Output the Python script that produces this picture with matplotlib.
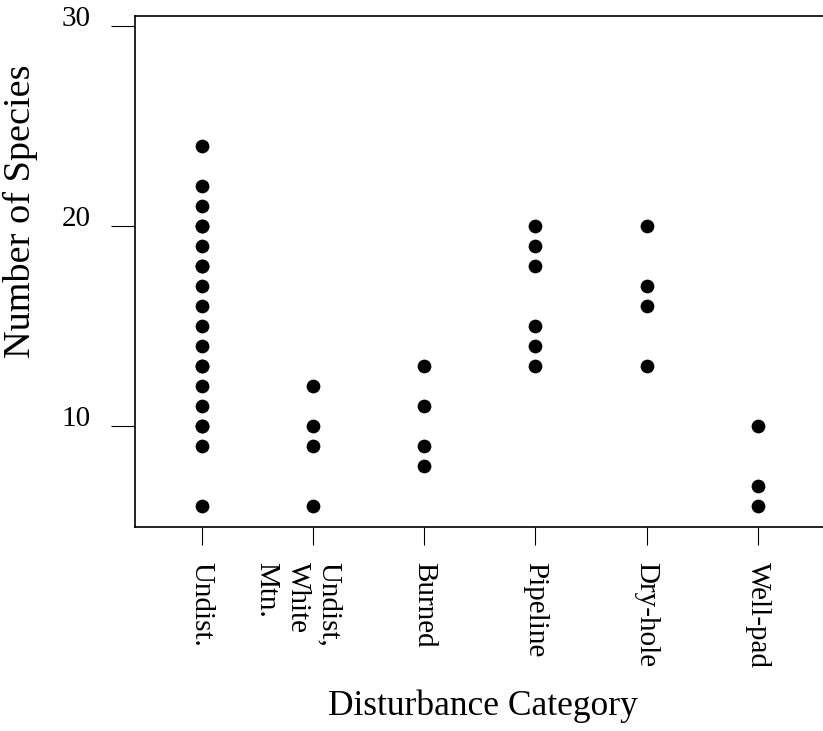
import numpy as np
import matplotlib.pyplot as plt
from matplotlib.transforms import ScaledTranslation

plt.rcParams['font.family'] = ['Liberation Serif', 'DejaVu Serif']

# species counts per plot, grouped by disturbance category
categories = ["Undist.", "Undist,\nWhite\nMtn.", "Burned", "Pipeline", "Dry-hole", "Well-pad"]
undist = [24, 22, 21, 20, 20, 19, 18, 18, 17, 16, 15, 14, 13, 13, 12, 11, 10, 10, 9, 6]
undist_white_mtn = [12, 10, 9, 6]
burned = [13, 11, 9, 8]
pipeline = [20, 19, 18, 15, 14, 13]
dry_hole = [20, 17, 16, 13]
well_pad = [10, 7, 6]
groups = [undist, undist_white_mtn, burned, pipeline, dry_hole, well_pad]
yticks = [10, 20, 30]

W, H = 823, 731
fig = plt.figure(figsize=(W / 100, H / 100), dpi=100)
ax = fig.add_axes([135 / W, 1 - 527 / H, (W - 135) / W, (527 - 16.5) / H])

for i, vals in enumerate(groups, start=1):
    ax.plot(np.full(len(vals), i), vals, 'o', color='black', markersize=9.9,
            markeredgewidth=0, linestyle='none')

ax.set_xlim(0.4, 6.586)
ax.set_ylim(4.95, 30.475)
ax.spines['right'].set_visible(False)
for s in ['left', 'bottom', 'top']:
    ax.spines[s].set_linewidth(1.2)

ax.set_yticks(yticks)
ax.set_yticklabels([str(t) for t in yticks], fontsize=21)
ax.tick_params(axis='y', length=17, width=0.8, pad=15)
# labels sit just above their ticks
for lbl in ax.get_yticklabels():
    lbl.set_transform(lbl.get_transform() + ScaledTranslation(0, 0.10, fig.dpi_scale_trans))

ax.set_xticks(range(1, len(categories) + 1))
ax.set_xticklabels(categories, rotation=-90, fontsize=21, va='top', ha='center',
                   multialignment='left', linespacing=1.28)
ax.tick_params(axis='x', length=13, width=0.8, pad=12)
xl = ax.get_xticklabels()
xl[1].set_transform(xl[1].get_transform() + ScaledTranslation(-0.15, 0, fig.dpi_scale_trans))

fig.text(483 / W, 1 - 706 / H, "Disturbance Category", fontsize=25.5, ha='center', va='center')
fig.text(20 / W, 1 - 211 / H, "Number of Species", fontsize=27.5, rotation=90,
         ha='center', va='center')

fig.savefig("out.png", dpi=100)
